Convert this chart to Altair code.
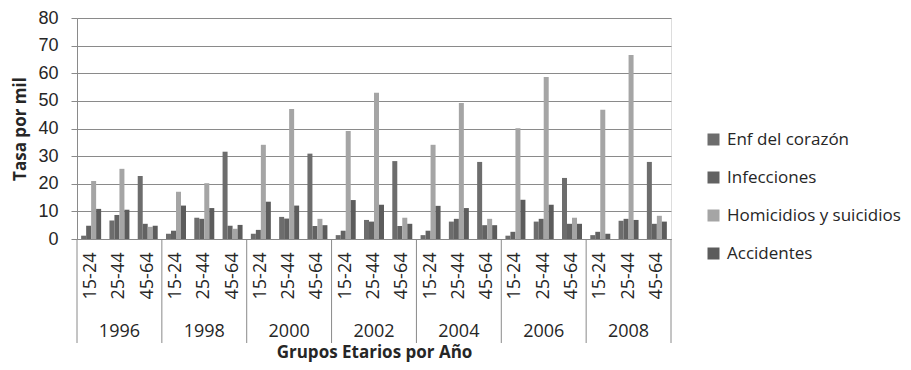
import altair as alt
import pandas as pd

years = ["1996", "1998", "2000", "2002", "2004", "2006", "2008"]
ages = ["15-24", "25-44", "45-64"]
series = ["Enf del corazón", "Infecciones", "Homicidios y suicidios", "Accidentes"]
colors = ["#6d6d6d", "#626262", "#a5a5a5", "#5c5c5c"]

enf = [1.2, 6.7, 22.8, 1.9, 7.7, 31.6, 1.9, 8.0, 30.9, 1.4, 6.9, 28.2,
       1.4, 6.3, 27.9, 1.2, 6.3, 22.1, 1.4, 6.6, 27.9]
inf = [4.8, 8.7, 5.5, 3.0, 7.3, 4.8, 3.3, 7.4, 4.7, 3.0, 6.3, 4.7,
       3.0, 7.3, 5.0, 2.6, 7.3, 5.5, 2.6, 7.3, 5.5]
hom = [21.0, 25.4, 4.4, 17.1, 20.2, 3.7, 34.1, 47.1, 7.3, 39.1, 52.9, 7.7,
       34.1, 49.2, 7.3, 40.1, 58.6, 7.7, 46.8, 66.6, 8.4]
acc = [10.9, 10.6, 4.8, 12.1, 11.2, 5.1, 13.5, 12.1, 5.0, 14.1, 12.4, 5.5,
       12.0, 11.2, 5.0, 14.2, 12.4, 5.5, 1.9, 6.9, 6.3]

keys = [f"{y}|{a}" for y in years for a in ages]
rows = []
for s, vals in zip(series, [enf, inf, hom, acc]):
    for k, v in zip(keys, vals):
        rows.append({"key": k, "serie": s, "valor": v})
df = pd.DataFrame(rows)

FONT = "Open Sans"
TXT = "#262626"
GRID = "#8a8a8a"
H = 221

xscale = alt.Scale(domain=keys, paddingInner=0, paddingOuter=0)

bars = alt.Chart(df).mark_bar().encode(
    x=alt.X("key:N", scale=xscale,
            axis=alt.Axis(labelExpr="split(datum.label, '|')[1]", labelAngle=-90,
                          ticks=False, labelPadding=13, labelFontSize=18,
                          labelColor=TXT, labelFont=FONT, domainColor=GRID,
                          title="Grupos Etarios por Año", titleFont=FONT,
                          titleFontSize=17, titleColor=TXT, titleFontWeight="bold",
                          titlePadding=46)),
    xOffset=alt.XOffset("serie:N", sort=series,
                        scale=alt.Scale(paddingInner=0, paddingOuter=0.83)),
    y=alt.Y("valor:Q", scale=alt.Scale(domain=[0, 80]),
            axis=alt.Axis(values=list(range(0, 81, 10)), tickSize=6, tickColor=GRID,
                          domainColor=GRID, gridColor=GRID, labelPadding=13,
                          labelFontSize=18, labelColor=TXT, labelFont="Liberation Sans",
                          title="Tasa por mil", titleFont=FONT, titleFontSize=17,
                          titleColor=TXT, titleFontWeight="bold", titlePadding=8)),
    color=alt.Color("serie:N", sort=series,
                    scale=alt.Scale(domain=series, range=colors),
                    legend=alt.Legend(title=None, orient="none", legendX=628, legendY=113,
                                      symbolType="square", symbolSize=144,
                                      symbolStrokeWidth=0, labelFontSize=17,
                                      labelFont=FONT, labelColor=TXT, labelOffset=5,
                                      labelLimit=0, rowPadding=20)),
)

year_first = pd.DataFrame({"key": [f"{y}|{ages[0]}" for y in years]})
year_last = pd.DataFrame({"key": [f"{years[-1]}|{ages[-1]}"]})
year_mid = pd.DataFrame({"key": [f"{y}|{ages[1]}" for y in years], "year": years})

sep_left = alt.Chart(year_first).mark_rule(color=GRID, strokeWidth=1).encode(
    x=alt.X("key:N", scale=xscale, bandPosition=0),
    y=alt.value(H), y2=alt.value(H + 104))
sep_right = alt.Chart(year_last).mark_rule(color=GRID, strokeWidth=1).encode(
    x=alt.X("key:N", scale=xscale, bandPosition=1),
    y=alt.value(H), y2=alt.value(H + 104))
year_text = alt.Chart(year_mid).mark_text(fontSize=18, font=FONT, color=TXT,
                                           baseline="middle", align="center").encode(
    x=alt.X("key:N", scale=xscale, bandPosition=0.5),
    y=alt.value(H + 92.5), text="year:N")

chart = alt.layer(bars, sep_left, sep_right, year_text).properties(
    width=594, height=H,
    autosize=alt.AutoSizeParams(type="none"),
    padding={"left": 69, "top": 10, "right": 232, "bottom": 123},
).configure_view(stroke=None).configure(background="white")

chart.save("out.html", embed_options={"renderer": "svg", "actions": False})
